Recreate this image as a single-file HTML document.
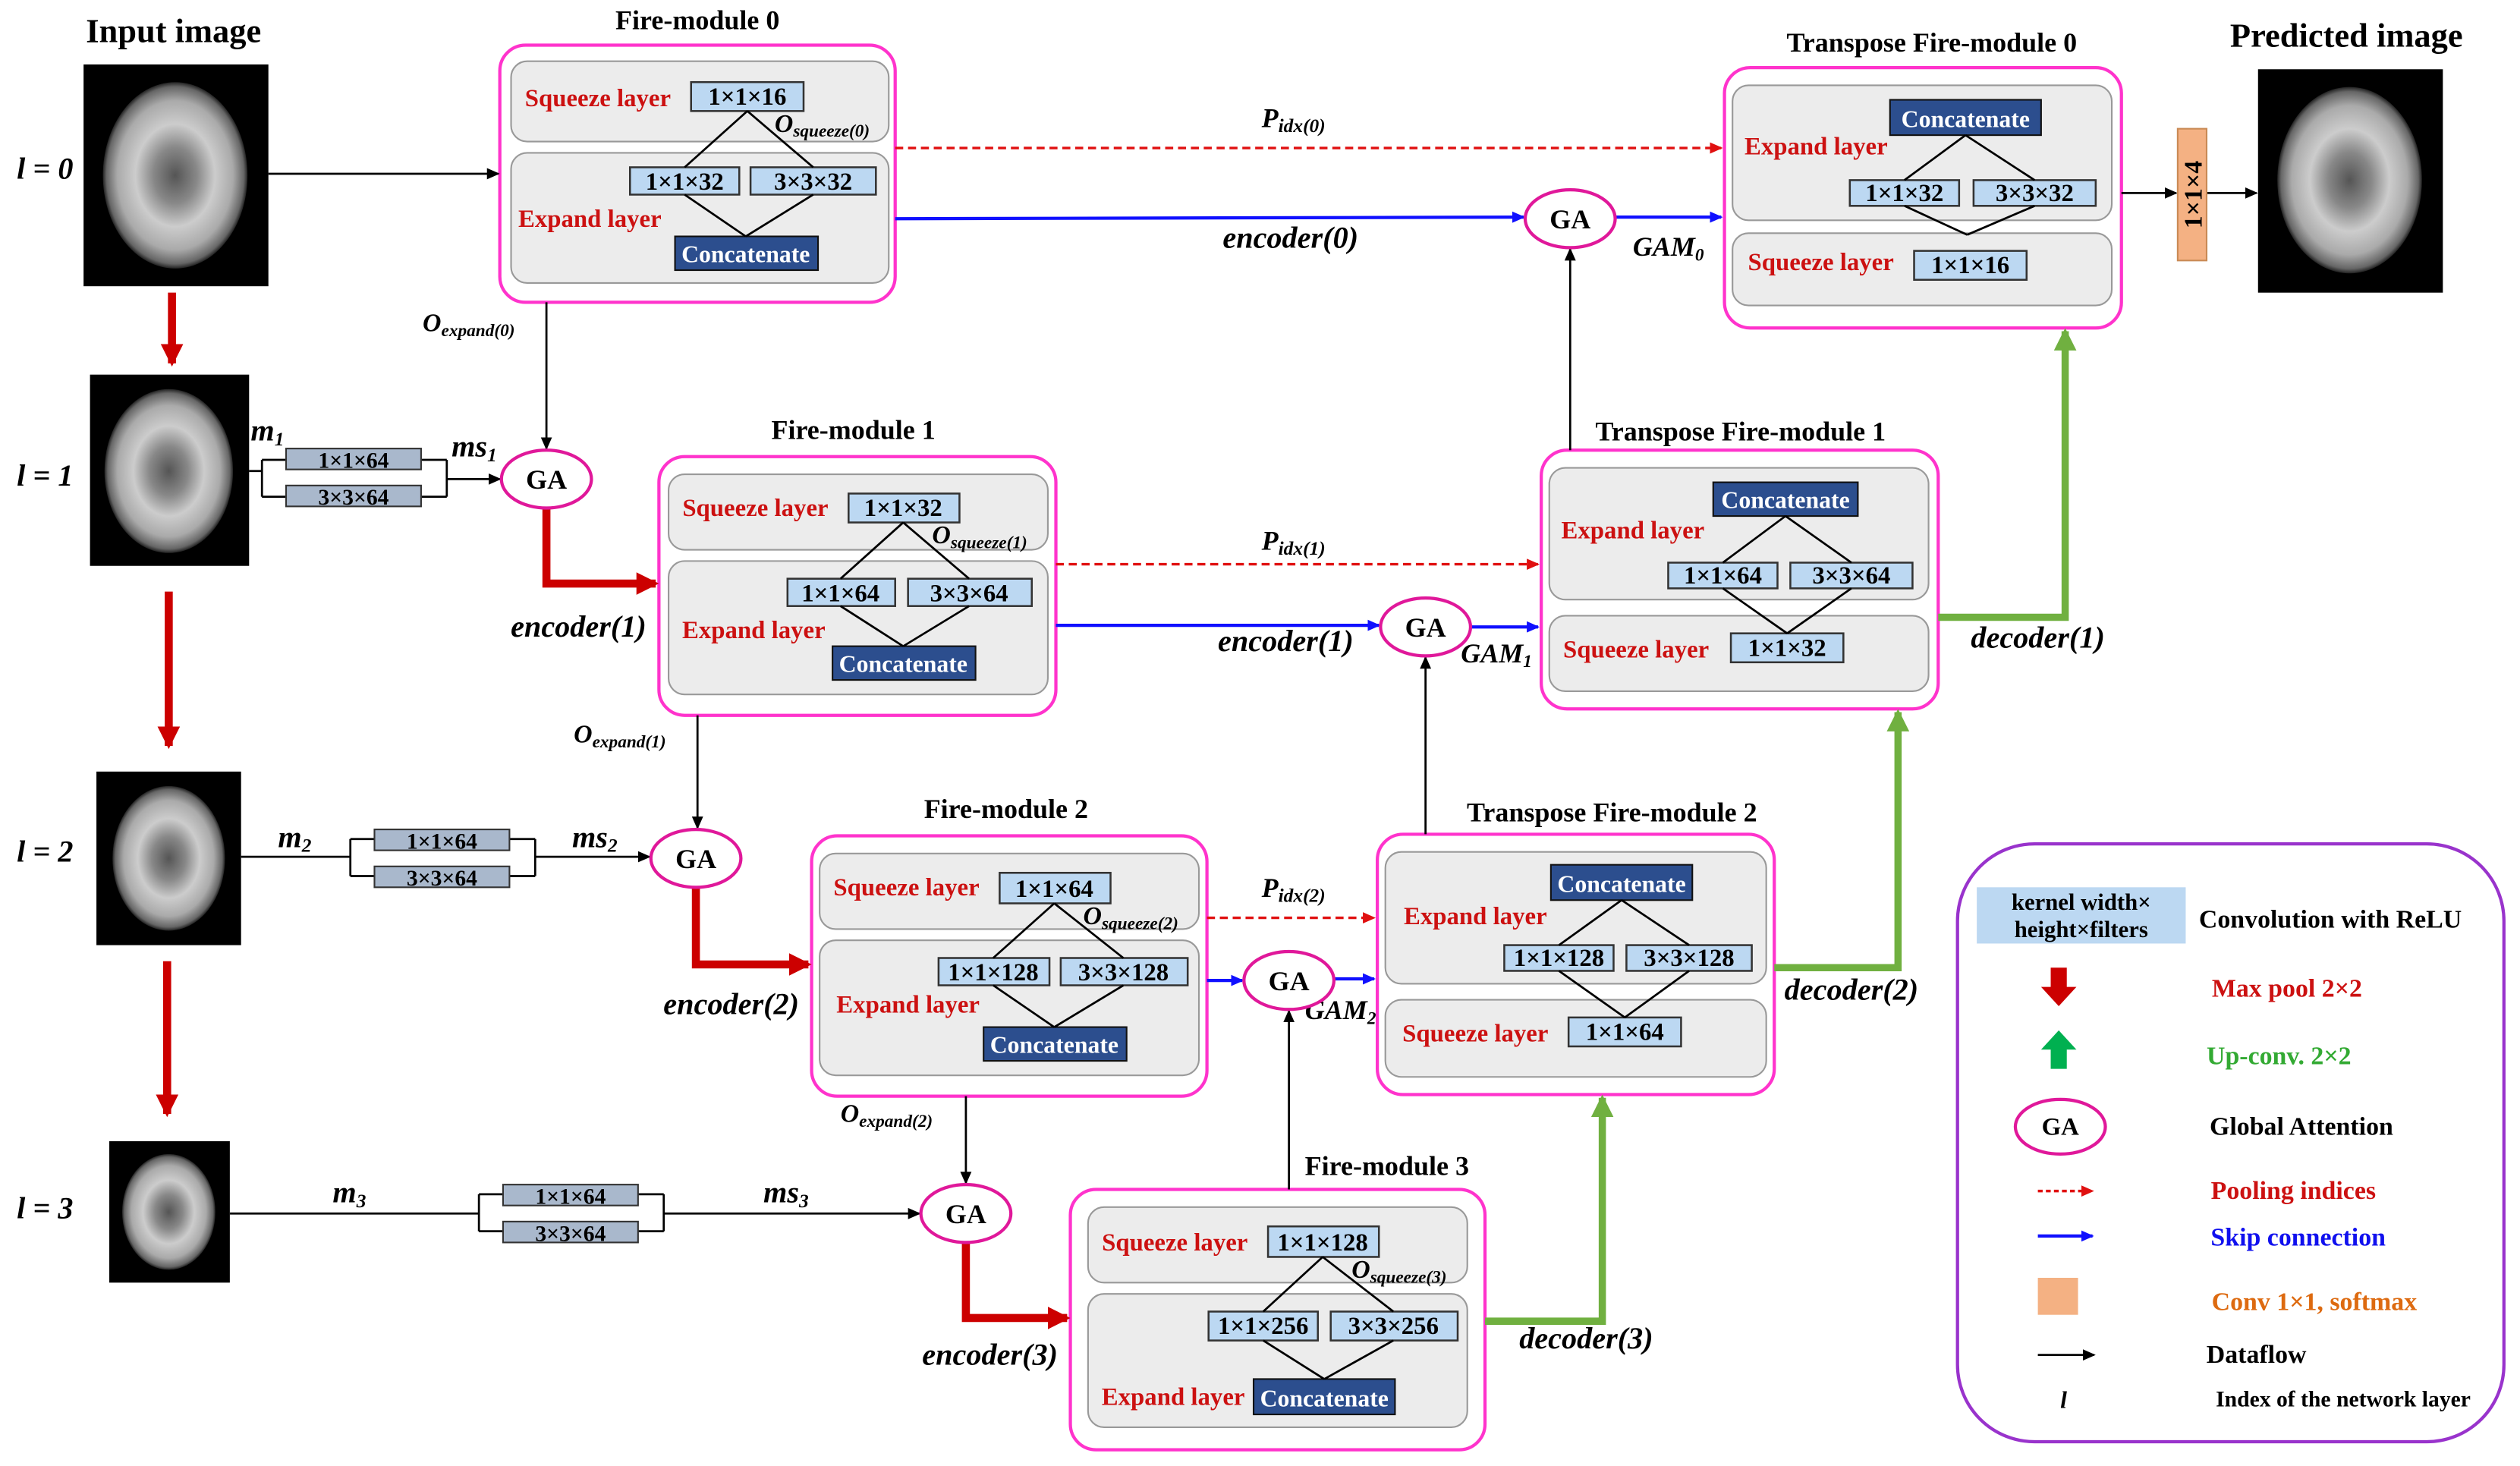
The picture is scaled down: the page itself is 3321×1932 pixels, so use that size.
<!DOCTYPE html>
<html><head><meta charset="utf-8"><style>
html,body{margin:0;padding:0;background:#fff}
svg{display:block}
text{font-family:"Liberation Serif",serif;font-weight:bold}
</style></head><body>
<svg width="3321" height="1932" viewBox="0 0 1568 912" xmlns="http://www.w3.org/2000/svg">
<defs>
<marker id="ak" markerWidth="8" markerHeight="8" refX="7" refY="4" orient="auto" markerUnits="userSpaceOnUse"><path d="M0,0.5 L8,4 L0,7.5 z" fill="#000"/></marker>
<marker id="ab" markerWidth="8" markerHeight="8" refX="7" refY="4" orient="auto" markerUnits="userSpaceOnUse"><path d="M0,0.5 L8,4 L0,7.5 z" fill="#1010ff"/></marker>
<marker id="ar" markerWidth="8" markerHeight="8" refX="7" refY="4" orient="auto" markerUnits="userSpaceOnUse"><path d="M0,0.5 L8,4 L0,7.5 z" fill="#e01010"/></marker>
<marker id="aR" markerWidth="16" markerHeight="16" refX="12" refY="8" orient="auto" markerUnits="userSpaceOnUse"><path d="M0,1 L14,8 L0,15 z" fill="#cc0000"/></marker>
<marker id="aG" markerWidth="16" markerHeight="16" refX="12" refY="8" orient="auto" markerUnits="userSpaceOnUse"><path d="M0,1 L14,8 L0,15 z" fill="#70b040"/></marker>
<radialGradient id="br" cx="50%" cy="50%" r="50%"><stop offset="0" stop-color="#555"/><stop offset="0.3" stop-color="#888"/><stop offset="0.55" stop-color="#ccc"/><stop offset="0.8" stop-color="#aaa"/><stop offset="0.95" stop-color="#666"/><stop offset="1" stop-color="#222"/></radialGradient>
</defs>
<style>
.fm{fill:#fff;stroke:#ff33cc;stroke-width:2}
.in{fill:#ececec;stroke:#999;stroke-width:1}
.kb{fill:#bcd8f2;stroke:#333;stroke-width:1.2}
.gb{fill:#a9b8cc;stroke:#333;stroke-width:1}
.cc{fill:#2c4e8e;stroke:#111;stroke-width:1}
.t{font-size:17px}
.r{fill:#cc1111;font-size:15.5px}
.w{fill:#fff;font-size:15px}
.k{font-size:15.5px}
.ti{font-size:17px}
.i{font-style:italic;font-size:19px}
.ln{stroke:#000;stroke-width:1.3;fill:none}
.ga{fill:#fff;stroke:#e0189a;stroke-width:2}
.lg{font-size:16px}
</style>

<!-- brains -->
<g>
<rect x="52" y="40" width="115" height="138" fill="#000"/><ellipse cx="109" cy="109" rx="45" ry="58" fill="url(#br)"/>
<rect x="56" y="233" width="99" height="119" fill="#000"/><ellipse cx="105" cy="293" rx="40" ry="51" fill="url(#br)"/>
<rect x="60" y="480" width="90" height="108" fill="#000"/><ellipse cx="105" cy="534" rx="35" ry="45" fill="url(#br)"/>
<rect x="68" y="710" width="75" height="88" fill="#000"/><ellipse cx="105" cy="754" rx="29" ry="36" fill="url(#br)"/>
<rect x="1405" y="43" width="115" height="139" fill="#000"/><ellipse cx="1462" cy="112" rx="45" ry="58" fill="url(#br)"/>
</g>
<text x="108" y="26" text-anchor="middle" style="font-size:21px">Input image</text>
<text x="1460" y="29" text-anchor="middle" style="font-size:21px">Predicted image</text>
<text x="28" y="111" text-anchor="middle" class="i" style="font-size:19px">l = 0</text>
<text x="28" y="302" text-anchor="middle" class="i" style="font-size:19px">l = 1</text>
<text x="28" y="536" text-anchor="middle" class="i" style="font-size:19px">l = 2</text>
<text x="28" y="758" text-anchor="middle" class="i" style="font-size:19px">l = 3</text>

<!-- red down arrows -->
<g stroke="#cc0000" stroke-width="5" marker-end="url(#aR)">
<line x1="107" y1="182" x2="107" y2="226"/>
<line x1="105" y1="368" x2="105" y2="464"/>
<line x1="104" y1="598" x2="104" y2="693"/>
</g>

<!-- Fire module 0 -->
<text x="434" y="18" text-anchor="middle" class="t">Fire-module 0</text>
<rect class="fm" x="311" y="28" width="246" height="160" rx="16"/>
<rect class="in" x="318" y="38" width="235" height="50" rx="10"/>
<rect class="in" x="318" y="95" width="235" height="81" rx="10"/>
<text x="372" y="66" text-anchor="middle" class="r">Squeeze layer</text>
<text x="367" y="141" text-anchor="middle" class="r">Expand layer</text>
<rect class="kb" x="430" y="51" width="70" height="18"/><text x="465" y="65" text-anchor="middle" class="k">1×1×16</text>
<rect class="kb" x="392" y="104" width="68" height="17"/><text x="426" y="118" text-anchor="middle" class="k">1×1×32</text>
<rect class="kb" x="467" y="104" width="78" height="17"/><text x="506" y="118" text-anchor="middle" class="k">3×3×32</text>
<rect class="cc" x="420" y="147" width="89" height="21"/><text x="464" y="163" text-anchor="middle" class="w">Concatenate</text>
<path class="ln" d="M465,69 L426,104 M465,69 L506,104 M426,121 L464,147 M506,121 L464,147"/>
<text x="482" y="82" class="i" style="font-size:16px">O<tspan style="font-size:11px" dy="3">squeeze(0)</tspan></text>

<!-- Fire module 1 -->
<text x="531" y="273" text-anchor="middle" class="t">Fire-module 1</text>
<rect class="fm" x="410" y="284" width="247" height="161" rx="16"/>
<rect class="in" x="416" y="295" width="236" height="47" rx="10"/>
<rect class="in" x="416" y="349" width="236" height="83" rx="10"/>
<text x="470" y="321" text-anchor="middle" class="r">Squeeze layer</text>
<text x="469" y="397" text-anchor="middle" class="r">Expand layer</text>
<rect class="kb" x="528" y="307" width="69" height="18"/><text x="562" y="321" text-anchor="middle" class="k">1×1×32</text>
<rect class="kb" x="490" y="360" width="67" height="17"/><text x="523" y="374" text-anchor="middle" class="k">1×1×64</text>
<rect class="kb" x="565" y="360" width="77" height="17"/><text x="603" y="374" text-anchor="middle" class="k">3×3×64</text>
<rect class="cc" x="518" y="402" width="89" height="21"/><text x="562" y="418" text-anchor="middle" class="w">Concatenate</text>
<path class="ln" d="M562,325 L523,360 M562,325 L603,360 M523,377 L562,402 M603,377 L562,402"/>
<text x="580" y="338" class="i" style="font-size:16px">O<tspan style="font-size:11px" dy="3">squeeze(1)</tspan></text>

<!-- Fire module 2 -->
<text x="626" y="509" text-anchor="middle" class="t">Fire-module 2</text>
<rect class="fm" x="505" y="520" width="246" height="162" rx="16"/>
<rect class="in" x="510" y="531" width="236" height="47" rx="10"/>
<rect class="in" x="510" y="585" width="236" height="84" rx="10"/>
<text x="564" y="557" text-anchor="middle" class="r">Squeeze layer</text>
<text x="565" y="630" text-anchor="middle" class="r">Expand layer</text>
<rect class="kb" x="622" y="543" width="69" height="19"/><text x="656" y="558" text-anchor="middle" class="k">1×1×64</text>
<rect class="kb" x="584" y="596" width="69" height="17"/><text x="618" y="610" text-anchor="middle" class="k">1×1×128</text>
<rect class="kb" x="660" y="596" width="79" height="17"/><text x="699" y="610" text-anchor="middle" class="k">3×3×128</text>
<rect class="cc" x="612" y="639" width="89" height="21"/><text x="656" y="655" text-anchor="middle" class="w">Concatenate</text>
<path class="ln" d="M656,562 L618,596 M656,562 L699,596 M618,613 L656,639 M699,613 L656,639"/>
<text x="674" y="575" class="i" style="font-size:16px">O<tspan style="font-size:11px" dy="3">squeeze(2)</tspan></text>

<!-- Fire module 3 -->
<text x="863" y="731" text-anchor="middle" class="t">Fire-module 3</text>
<rect class="fm" x="666" y="740" width="258" height="162" rx="16"/>
<rect class="in" x="677" y="751" width="236" height="47" rx="10"/>
<rect class="in" x="677" y="805" width="236" height="83" rx="10"/>
<text x="731" y="778" text-anchor="middle" class="r">Squeeze layer</text>
<text x="730" y="874" text-anchor="middle" class="r">Expand layer</text>
<rect class="kb" x="789" y="763" width="69" height="19"/><text x="823" y="778" text-anchor="middle" class="k">1×1×128</text>
<rect class="kb" x="752" y="816" width="68" height="18"/><text x="786" y="830" text-anchor="middle" class="k">1×1×256</text>
<rect class="kb" x="828" y="816" width="79" height="18"/><text x="867" y="830" text-anchor="middle" class="k">3×3×256</text>
<rect class="cc" x="780" y="858" width="88" height="22"/><text x="824" y="875" text-anchor="middle" class="w">Concatenate</text>
<path class="ln" d="M823,782 L786,816 M823,782 L867,816 M786,834 L824,858 M867,834 L824,858"/>
<text x="841" y="795" class="i" style="font-size:16px">O<tspan style="font-size:11px" dy="3">squeeze(3)</tspan></text>

<!-- Transpose 0 -->
<text x="1202" y="32" text-anchor="middle" class="t">Transpose Fire-module 0</text>
<rect class="fm" x="1073" y="42" width="247" height="162" rx="16"/>
<rect class="in" x="1078" y="53" width="236" height="84" rx="10"/>
<rect class="in" x="1078" y="145" width="236" height="45" rx="10"/>
<text x="1130" y="96" text-anchor="middle" class="r">Expand layer</text>
<text x="1133" y="168" text-anchor="middle" class="r">Squeeze layer</text>
<rect class="cc" x="1176" y="62" width="94" height="22"/><text x="1223" y="79" text-anchor="middle" class="w">Concatenate</text>
<rect class="kb" x="1151" y="112" width="68" height="16"/><text x="1185" y="125" text-anchor="middle" class="k">1×1×32</text>
<rect class="kb" x="1228" y="112" width="76" height="16"/><text x="1266" y="125" text-anchor="middle" class="k">3×3×32</text>
<rect class="kb" x="1191" y="156" width="70" height="18"/><text x="1226" y="170" text-anchor="middle" class="k">1×1×16</text>
<path class="ln" d="M1223,84 L1185,112 M1223,84 L1266,112 M1185,128 L1224,146 M1266,128 L1224,146"/>

<!-- Transpose 1 -->
<text x="1083" y="274" text-anchor="middle" class="t">Transpose Fire-module 1</text>
<rect class="fm" x="959" y="280" width="247" height="161" rx="16"/>
<rect class="in" x="964" y="291" width="236" height="82" rx="10"/>
<rect class="in" x="964" y="383" width="236" height="47" rx="10"/>
<text x="1016" y="335" text-anchor="middle" class="r">Expand layer</text>
<text x="1018" y="409" text-anchor="middle" class="r">Squeeze layer</text>
<rect class="cc" x="1066" y="300" width="90" height="21"/><text x="1111" y="316" text-anchor="middle" class="w">Concatenate</text>
<rect class="kb" x="1038" y="350" width="68" height="16"/><text x="1072" y="363" text-anchor="middle" class="k">1×1×64</text>
<rect class="kb" x="1114" y="350" width="76" height="16"/><text x="1152" y="363" text-anchor="middle" class="k">3×3×64</text>
<rect class="kb" x="1077" y="394" width="70" height="18"/><text x="1112" y="408" text-anchor="middle" class="k">1×1×32</text>
<path class="ln" d="M1111,321 L1072,350 M1111,321 L1152,350 M1072,366 L1112,394 M1152,366 L1112,394"/>

<!-- Transpose 2 -->
<text x="1003" y="511" text-anchor="middle" class="t">Transpose Fire-module 2</text>
<rect class="fm" x="857" y="519" width="247" height="162" rx="16"/>
<rect class="in" x="862" y="530" width="237" height="82" rx="10"/>
<rect class="in" x="862" y="622" width="237" height="48" rx="10"/>
<text x="918" y="575" text-anchor="middle" class="r">Expand layer</text>
<text x="918" y="648" text-anchor="middle" class="r">Squeeze layer</text>
<rect class="cc" x="965" y="538" width="88" height="22"/><text x="1009" y="555" text-anchor="middle" class="w">Concatenate</text>
<rect class="kb" x="936" y="588" width="68" height="16"/><text x="970" y="601" text-anchor="middle" class="k">1×1×128</text>
<rect class="kb" x="1012" y="588" width="78" height="16"/><text x="1051" y="601" text-anchor="middle" class="k">3×3×128</text>
<rect class="kb" x="976" y="633" width="70" height="18"/><text x="1011" y="647" text-anchor="middle" class="k">1×1×64</text>
<path class="ln" d="M1009,560 L970,588 M1009,560 L1051,588 M970,604 L1011,633 M1051,604 L1011,633"/>

<!-- dataflow black -->
<g class="ln" marker-end="url(#ak)">
<line x1="167" y1="108" x2="310" y2="108"/>
<line x1="340" y1="188" x2="340" y2="279"/>
<line x1="434" y1="445" x2="434" y2="515"/>
<line x1="601" y1="682" x2="601" y2="736"/>
<line x1="977" y1="280" x2="977" y2="155"/>
<line x1="887" y1="519" x2="887" y2="409"/>
<line x1="802" y1="740" x2="802" y2="629"/>
<line x1="1320" y1="120" x2="1354" y2="120"/>
<line x1="1373" y1="120" x2="1404" y2="120"/>
<line x1="278" y1="298" x2="311" y2="298"/>
<line x1="333" y1="533" x2="404" y2="533"/>
<line x1="413" y1="755" x2="572" y2="755"/>
</g>
<text x="263" y="206" class="i" style="font-size:16px">O<tspan style="font-size:11px" dy="3">expand(0)</tspan></text>
<text x="357" y="462" class="i" style="font-size:16px">O<tspan style="font-size:11px" dy="3">expand(1)</tspan></text>
<text x="523" y="698" class="i" style="font-size:16px">O<tspan style="font-size:11px" dy="3">expand(2)</tspan></text>

<!-- branch brackets -->
<path class="ln" d="M155,293 L163,293 M163,286 L163,309 M163,286 L178,286 M163,309 L178,309 M262,286 L278,286 M262,309 L278,309 M278,286 L278,309"/>
<rect class="gb" x="178" y="279" width="84" height="13"/><text x="220" y="291" text-anchor="middle" class="k" style="font-size:14px">1×1×64</text>
<rect class="gb" x="178" y="302" width="84" height="13"/><text x="220" y="314" text-anchor="middle" class="k" style="font-size:14px">3×3×64</text>
<text x="156" y="274" class="i">m<tspan style="font-size:12px" dy="3">1</tspan></text>
<text x="281" y="284" class="i">ms<tspan style="font-size:12px" dy="3">1</tspan></text>

<path class="ln" d="M150,533 L218,533 M218,522 L218,545 M218,522 L233,522 M218,545 L233,545 M317,522 L333,522 M317,545 L333,545 M333,522 L333,545"/>
<rect class="gb" x="233" y="516" width="84" height="13"/><text x="275" y="528" text-anchor="middle" class="k" style="font-size:14px">1×1×64</text>
<rect class="gb" x="233" y="539" width="84" height="13"/><text x="275" y="551" text-anchor="middle" class="k" style="font-size:14px">3×3×64</text>
<text x="173" y="527" class="i">m<tspan style="font-size:12px" dy="3">2</tspan></text>
<text x="356" y="527" class="i">ms<tspan style="font-size:12px" dy="3">2</tspan></text>

<path class="ln" d="M143,755 L298,755 M298,743 L298,766 M298,743 L313,743 M298,766 L313,766 M397,743 L413,743 M397,766 L413,766 M413,743 L413,766"/>
<rect class="gb" x="313" y="737" width="84" height="13"/><text x="355" y="749" text-anchor="middle" class="k" style="font-size:14px">1×1×64</text>
<rect class="gb" x="313" y="760" width="84" height="13"/><text x="355" y="772" text-anchor="middle" class="k" style="font-size:14px">3×3×64</text>
<text x="207" y="748" class="i">m<tspan style="font-size:12px" dy="3">3</tspan></text>
<text x="475" y="748" class="i">ms<tspan style="font-size:12px" dy="3">3</tspan></text>

<!-- red thick encoder arrows -->
<g stroke="#cc0000" stroke-width="5" fill="none" marker-end="url(#aR)">
<path d="M340,316 L340,363 L408,363"/>
<path d="M433,552 L433,600 L503,600"/>
<path d="M601,773 L601,820 L664,820"/>
</g>
<text x="360" y="396" text-anchor="middle" class="i">encoder(1)</text>
<text x="455" y="631" text-anchor="middle" class="i">encoder(2)</text>
<text x="616" y="849" text-anchor="middle" class="i">encoder(3)</text>

<!-- dashed pooling -->
<g stroke="#e01010" stroke-width="1.6" stroke-dasharray="5,3" marker-end="url(#ar)">
<line x1="557" y1="92" x2="1071" y2="92"/>
<line x1="657" y1="351" x2="957" y2="351"/>
<line x1="751" y1="571" x2="855" y2="571"/>
</g>
<text x="785" y="79" class="i" style="font-size:17px">P<tspan style="font-size:12px" dy="3">idx(0)</tspan></text>
<text x="785" y="342" class="i" style="font-size:17px">P<tspan style="font-size:12px" dy="3">idx(1)</tspan></text>
<text x="785" y="558" class="i" style="font-size:17px">P<tspan style="font-size:12px" dy="3">idx(2)</tspan></text>

<!-- blue skip -->
<g stroke="#1010ff" stroke-width="2" marker-end="url(#ab)">
<line x1="557" y1="136" x2="948" y2="135"/>
<line x1="1005" y1="135" x2="1071" y2="135"/>
<line x1="657" y1="389" x2="858" y2="389"/>
<line x1="915" y1="390" x2="957" y2="390"/>
<line x1="751" y1="610" x2="773" y2="610"/>
<line x1="830" y1="609" x2="855" y2="609"/>
</g>
<text x="803" y="154" text-anchor="middle" class="i">encoder(0)</text>
<text x="800" y="405" text-anchor="middle" class="i">encoder(1)</text>
<text x="1016" y="159" class="i" style="font-size:17px">GAM<tspan style="font-size:11px" dy="3">0</tspan></text>
<text x="909" y="412" class="i" style="font-size:17px">GAM<tspan style="font-size:11px" dy="3">1</tspan></text>
<text x="812" y="634" class="i" style="font-size:17px">GAM<tspan style="font-size:11px" dy="3">2</tspan></text>

<!-- green decoder -->
<g stroke="#70b040" stroke-width="4.5" fill="none" marker-end="url(#aG)">
<path d="M1206,384 L1285,384 L1285,206"/>
<path d="M1104,602 L1181,602 L1181,443"/>
<path d="M924,822 L997,822 L997,683"/>
</g>
<text x="1268" y="403" text-anchor="middle" class="i">decoder(1)</text>
<text x="1152" y="622" text-anchor="middle" class="i">decoder(2)</text>
<text x="987" y="839" text-anchor="middle" class="i">decoder(3)</text>

<!-- GA nodes -->
<g>
<ellipse class="ga" cx="977" cy="136" rx="28" ry="18"/><text x="977" y="142" text-anchor="middle" class="ti">GA</text>
<ellipse class="ga" cx="887" cy="390" rx="28" ry="18"/><text x="887" y="396" text-anchor="middle" class="ti">GA</text>
<ellipse class="ga" cx="802" cy="610" rx="28" ry="18"/><text x="802" y="616" text-anchor="middle" class="ti">GA</text>
<ellipse class="ga" cx="340" cy="298" rx="28" ry="18"/><text x="340" y="304" text-anchor="middle" class="ti">GA</text>
<ellipse class="ga" cx="433" cy="534" rx="28" ry="18"/><text x="433" y="540" text-anchor="middle" class="ti">GA</text>
<ellipse class="ga" cx="601" cy="755" rx="28" ry="18"/><text x="601" y="761" text-anchor="middle" class="ti">GA</text>
</g>

<!-- softmax -->
<rect x="1355" y="80" width="18" height="82" fill="#f4b183" stroke="#c98a55"/>
<text x="1364" y="127" text-anchor="middle" transform="rotate(-90 1364 121)" class="k" style="font-size:16px">1×1×4</text>

<!-- legend -->
<rect x="1218" y="525" width="340" height="372" rx="48" fill="#fff" stroke="#9933cc" stroke-width="2"/>
<rect x="1230" y="552" width="130" height="35" fill="#bcd8f2"/>
<text x="1295" y="566" text-anchor="middle" class="k" style="font-size:14.5px">kernel width×</text>
<text x="1295" y="583" text-anchor="middle" class="k" style="font-size:14.5px">height×filters</text>
<text x="1450" y="577" text-anchor="middle" class="lg">Convolution with ReLU</text>
<path d="M1276,602 h10 v12 h6 l-11,12 l-11,-12 h6 z" fill="#cc0000"/>
<text x="1423" y="620" text-anchor="middle" class="r" style="font-size:16px">Max pool 2×2</text>
<path d="M1276,665 h10 v-12 h6 l-11,-12 l-11,12 h6 z" fill="#00b050"/>
<text x="1418" y="662" text-anchor="middle" class="lg" style="fill:#33aa33">Up-conv. 2×2</text>
<ellipse class="ga" cx="1282" cy="701" rx="28" ry="17"/><text x="1282" y="706" text-anchor="middle" class="k">GA</text>
<text x="1432" y="706" text-anchor="middle" class="lg">Global Attention</text>
<line x1="1268" y1="741" x2="1302" y2="741" stroke="#e01010" stroke-width="1.6" stroke-dasharray="3,2" marker-end="url(#ar)"/>
<text x="1427" y="746" text-anchor="middle" class="r" style="font-size:16px">Pooling indices</text>
<line x1="1268" y1="769" x2="1302" y2="769" stroke="#1010ff" stroke-width="2" marker-end="url(#ab)"/>
<text x="1430" y="775" text-anchor="middle" class="lg" style="fill:#1010ee">Skip connection</text>
<rect x="1268" y="795" width="25" height="23" fill="#f4b183"/>
<text x="1440" y="815" text-anchor="middle" class="lg" style="fill:#dd6a10">Conv 1×1, softmax</text>
<line x1="1268" y1="843" x2="1303" y2="843" class="ln" marker-end="url(#ak)"/>
<text x="1404" y="848" text-anchor="middle" class="lg">Dataflow</text>
<text x="1284" y="876" text-anchor="middle" class="i" style="font-size:15px">l</text>
<text x="1458" y="875" text-anchor="middle" style="font-size:14px">Index of the network layer</text>
</svg>
</body></html>
